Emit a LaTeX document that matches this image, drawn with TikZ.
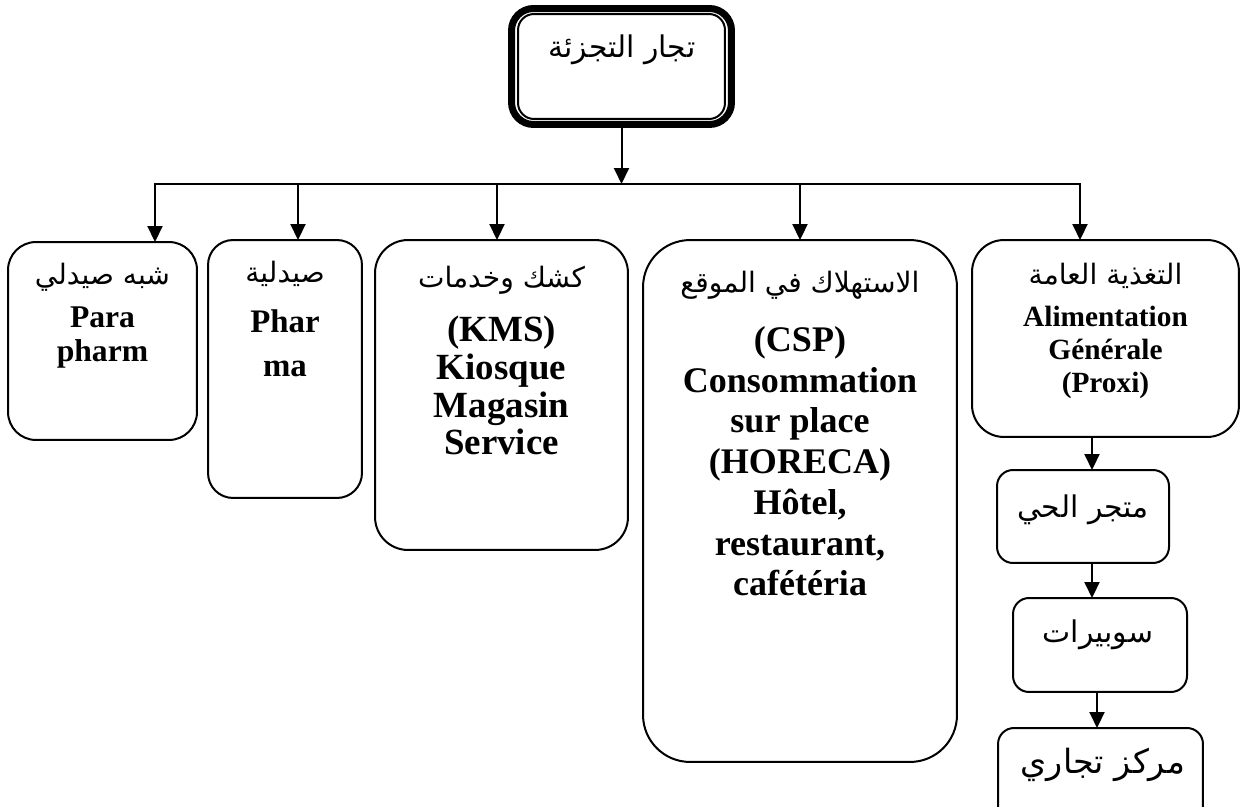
\documentclass[tikz,border=0pt]{standalone}
\usepackage{fontspec}
\setmainfont{Liberation Serif}
\newfontfamily\arabicfont[Script=Arabic]{DejaVu Sans}
\TeXXeTstate=1
\usetikzlibrary{arrows.meta}

% Arabic line, right to left, optional size in pt
\newcommand{\ar}[2][16]{{\fontsize{#1}{#1}\arabicfont\beginR #2\endR}}
% bold Latin block at a given size and line spacing
\newcommand{\lat}[2]{\fontsize{#1}{#2}\selectfont\bfseries}

\tikzset{
  panel/.style={draw, line width=0.04cm, inner sep=0pt, outer sep=0pt},
  link/.style={line width=0.04cm},
  arrow/.style={link, -{Triangle[width=0.3cm,length=0.32cm]}},
  txt/.style={anchor=base, inner sep=0pt, outer sep=0pt},
}

\begin{document}
\begin{tikzpicture}[x=0.02cm, y=-0.02cm]
\clip (0,0) rectangle (1240,807);

% root with a heavy outer frame and a thin inner frame
\node[panel, line width=0.14cm, rounded corners=0.44cm,
      minimum width=4.4cm, minimum height=2.32cm] (top) at (621.5,66.5) {};
\node[panel, rounded corners=0.32cm,
      minimum width=4.14cm, minimum height=2.1cm] (topin) at (top.center) {};
\node[txt] (toptxt) at (622,58) {\ar[17]{تجار التجزئة}};

% main branches
\node[panel, rounded corners=0.56cm, minimum width=3.78cm, minimum height=3.96cm] (b1) at (102.5,341) {};
\node[panel, rounded corners=0.5cm,  minimum width=3.08cm, minimum height=5.16cm] (b2) at (285,369) {};
\node[panel, rounded corners=0.66cm, minimum width=5.06cm, minimum height=6.2cm]  (b3) at (501.5,395) {};
\node[panel, rounded corners=0.94cm, minimum width=6.28cm, minimum height=10.44cm] (b4) at (800,501) {};
\node[panel, rounded corners=0.64cm, minimum width=5.34cm, minimum height=3.94cm] (b5) at (1105.5,338.5) {};

\node[txt] (t1) at (102.5,285) {\parbox[t]{3.6cm}{\centering
  \ar{شبه صيدلي}\\[5pt]\lat{18}{19.3}Para\\pharm}};
\node[txt] (t2) at (285,283) {\parbox[t]{3cm}{\centering
  \ar{صيدلية}\\[3pt]\lat{18.7}{25}Phar\\ma}};
\node[txt] (t3) at (501.5,288) {\parbox[t]{5cm}{\centering
  \ar{كشك وخدمات}\\[9pt]\lat{21}{21.5}(KMS)\\Kiosque\\Magasin\\Service}};
\node[txt] (t4) at (800,293) {\parbox[t]{6.2cm}{\centering
  \ar{الاستهلاك في الموقع}\\[10pt]\lat{20.5}{23.2}(CSP)\\Consommation\\sur place\\(HORECA)\\Hôtel,\\restaurant,\\cafétéria}};
\node[txt] (t5) at (1105.5,285) {\parbox[t]{5.2cm}{\centering
  \ar{التغذية العامة}\\[5pt]\lat{16.7}{18.7}Alimentation\\Générale\\(Proxi)}};

% store formats under general food retail
\node[panel, rounded corners=0.32cm, minimum width=3.44cm, minimum height=1.86cm] (s1) at (1083,516.5) {};
\node[panel, rounded corners=0.32cm, minimum width=3.48cm, minimum height=1.88cm] (s2) at (1100,645) {};
\node[panel, rounded corners=0.32cm, minimum width=4.1cm,  minimum height=2.04cm] (s3) at (1100.5,779) {};
\node[txt] (u1) at (1083,517) {\ar[17]{متجر الحي}};
\node[txt] (u2) at (1098,642) {\ar[17]{سوبيرات}};
\node[txt] (u3) at (1103,773) {\ar[19]{مركز تجاري}};

% distribution bar
\coordinate (hub) at (621.5,184);
\coordinate (h1) at (155,184);
\coordinate (h2) at (298,184);
\coordinate (h3) at (497,184);
\coordinate (h4) at (800,184);
\coordinate (h5) at (1080,184);
\draw[arrow] (top.south) -- (hub);
\draw[link, line cap=rect] (h1) -- (h5);
\draw[arrow] (h1) -- (h1 |- b1.north);
\draw[arrow] (h2) -- (h2 |- b2.north);
\draw[arrow] (h3) -- (h3 |- b3.north);
\draw[arrow] (h4) -- (h4 |- b4.north);
\draw[arrow] (h5) -- (h5 |- b5.north);

% chain of store formats
\coordinate (c1) at (1092,0);
\coordinate (c3) at (1097,0);
\draw[arrow] (c1 |- b5.south) -- (c1 |- s1.north);
\draw[arrow] (c1 |- s1.south) -- (c1 |- s2.north);
\draw[arrow] (c3 |- s2.south) -- (c3 |- s3.north);
\end{tikzpicture}
\end{document}
